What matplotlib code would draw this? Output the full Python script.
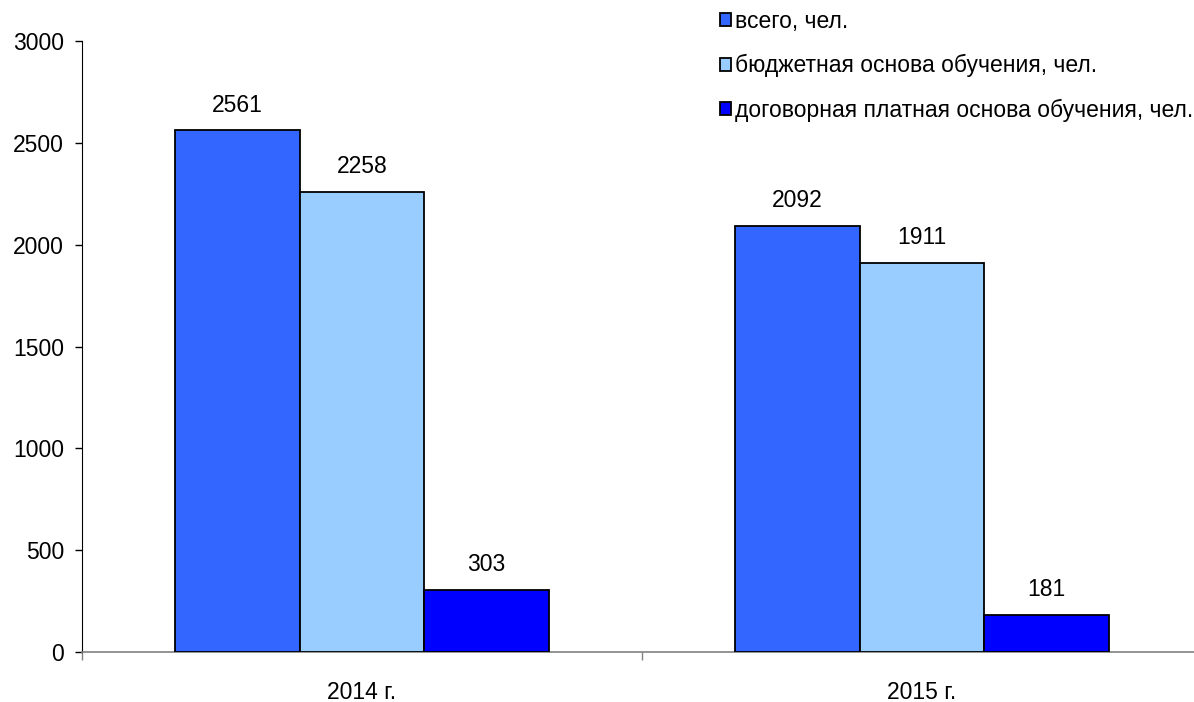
import matplotlib.pyplot as plt
import numpy as np

plt.rcParams['font.family'] = ['Liberation Sans', 'DejaVu Sans']

years = ['2014 г.', '2015 г.']
total = [2561, 2092]
budget = [2258, 1911]
paid = [303, 181]
series_names = ['всего, чел.', 'бюджетная основа обучения, чел.',
                'договорная платная основа обучения, чел.']
colors = ['#3366FF', '#99CCFF', '#0000FF']

fig = plt.figure(figsize=(11.94, 7.02), dpi=100)
# plot area runs slightly past the right edge, as in the original
ax = fig.add_axes([82 / 1194, 50 / 702, 1120 / 1194, 611 / 702])

x = np.arange(len(years))
width = 0.2223
for i, (vals, name, c) in enumerate(zip([total, budget, paid], series_names, colors)):
    bars = ax.bar(x + (i - 1) * width, vals, width, color=c, edgecolor='black',
                  linewidth=1.3, label=name, zorder=3)
    for b, v in zip(bars, vals):
        ax.annotate(str(v), (b.get_x() + b.get_width() / 2, v), xytext=(0, 10),
                    textcoords='offset points', ha='center', va='bottom', fontsize=16.5)

ax.set_xlim(-0.5, 1.5)
ax.set_ylim(0, 3000)
ax.set_yticks(range(0, 3001, 500))
ax.tick_params(axis='y', direction='out', length=5, width=1, pad=8, labelsize=16.5)

ax.set_xticks(x)
ax.set_xticklabels(years)
ax.tick_params(axis='x', which='major', length=0, pad=21, labelsize=16.5)
ax.set_xticks([-0.5, 0.5, 1.5], minor=True)
ax.tick_params(axis='x', which='minor', direction='out', length=6, width=1, color='#808080')

ax.spines['top'].set_visible(False)
ax.spines['right'].set_visible(False)
ax.spines['bottom'].set_color('#808080')
ax.spines['bottom'].set_linewidth(1.2)
ax.spines['left'].set_color('black')

fig.legend(loc='upper left', bbox_to_anchor=(720 / 1194, 1 - 10 / 702), frameon=False,
           fontsize=16.5, handlelength=0.5, handleheight=0.5, handletextpad=0.15,
           labelspacing=0.92, borderpad=0, borderaxespad=0)

plt.savefig('out.png', dpi=100)
plt.close()
